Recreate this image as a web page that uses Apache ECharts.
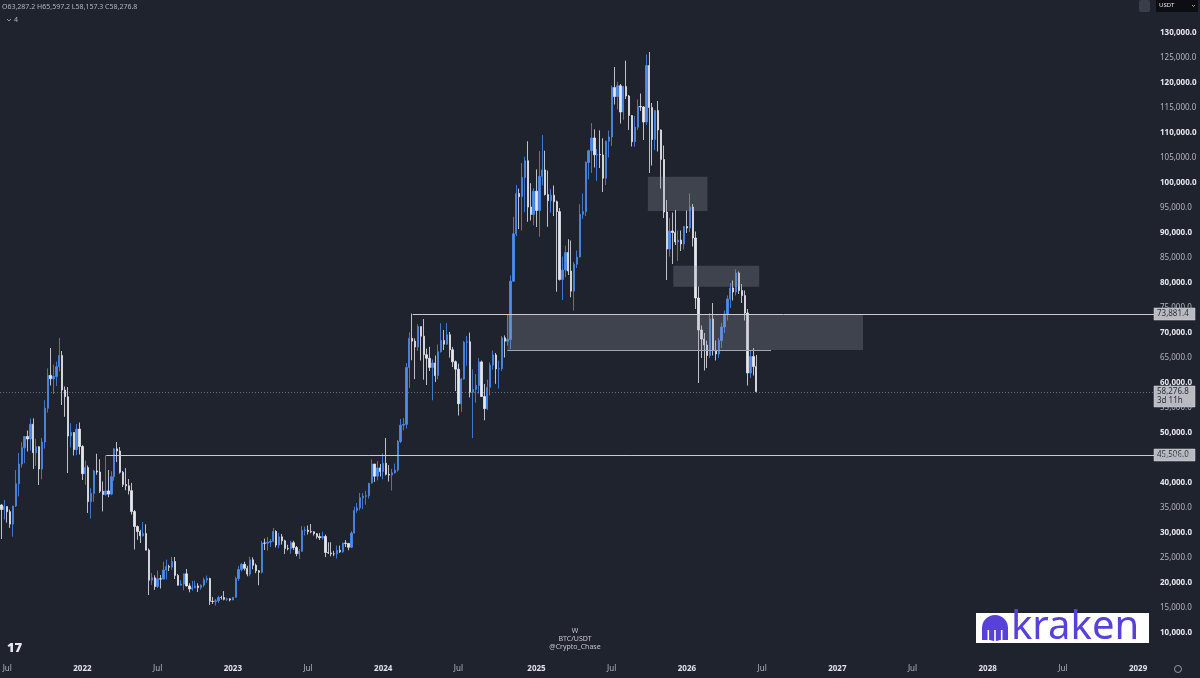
<!DOCTYPE html>
<html>
<head>
<meta charset="utf-8">
<title>BTC/USDT W</title>
<script src="https://cdn.jsdelivr.net/npm/echarts@6/dist/echarts.min.js"></script>
<style>
  html, body { margin: 0; padding: 0; background: #1f232d; }
  #main { width: 1200px; height: 678px; }
</style>
</head>
<body>
<div id="main"></div>
<script>
// weekly BTC/USDT candles, prices in thousands of USDT
const firstWeek = Date.UTC(2021, 5, 21);
const weekCount = 399; // candles + empty space to early 2029

const opens = [
  35.6, 34.7, 35.29, 34.26, 31.78, 35.4, 39.85, 43.8, 47.06, 49.3,
  48.8, 51.76, 46.06, 47.26, 42.8, 48.2, 54.96, 61.53, 60.85, 61.3,
  63.27, 65.52, 58.6, 57.25, 49.4, 50.1, 46.68, 50.78, 47.3, 41.86,
  43.08, 36.28, 37.92, 42.41, 42.2, 38.35, 37.7, 38.42, 37.78, 41.26,
  46.83, 46.4, 42.15, 39.7, 39.45, 38.47, 34.3, 31.3, 30.3, 29.45,
  29.9, 26.57, 20.56, 21.03, 19.3, 20.84, 20.78, 22.58, 23.3, 23.17,
  24.3, 21.52, 19.55, 19.8, 21.83, 19.42, 18.8, 19.05, 19.42, 19.07,
  19.57, 20.63, 20.9, 16.33, 16.28, 16.43, 17.1, 17.09, 16.74, 16.84,
  16.6, 17.13, 20.87, 22.7, 23.74, 22.93, 21.78, 24.63, 23.55, 22.43,
  22.14, 27.98, 27.96, 28.17, 28.33, 30.3, 27.59, 29.23, 28.43, 26.92,
  26.85, 28.07, 27.1, 25.85, 26.34, 30.52, 30.59, 30.29, 30.23, 29.86,
  29.28, 29.05, 29.3, 26.1, 26.01, 25.84, 25.83, 26.53, 26.25, 27.99,
  27.92, 27.15, 30.0, 34.52, 35.01, 37.06, 37.36, 37.45, 39.97, 43.79,
  41.37, 43.02, 42.28, 43.95, 41.73, 41.58, 42.03, 42.58, 48.3, 51.57,
  51.73, 63.11, 68.95, 68.37, 67.21, 71.28, 69.36, 65.66, 64.94, 63.11,
  64.01, 61.48, 66.27, 68.5, 67.76, 69.65, 66.65, 64.25, 62.77, 55.85,
  60.8, 68.16, 68.25, 58.16, 58.71, 59.49, 64.22, 57.3, 54.87, 59.13,
  63.58, 65.6, 62.82, 62.85, 69.03, 68.36, 68.72, 80.37, 89.85, 97.9,
  97.27, 101.11, 104.46, 95.19, 93.71, 98.36, 94.5, 101.33, 102.62, 97.7,
  96.46, 97.57, 96.26, 94.27, 80.7, 82.58, 86.08, 82.39, 78.37, 83.76,
  85.18, 93.75, 94.28, 104.1, 106.45, 109.0, 105.64, 105.7, 105.6, 100.96,
  108.35, 109.2, 119.08, 117.3, 119.45, 114.2, 119.3, 117.4, 113.5, 108.25,
  111.15, 115.3, 115.2, 112.2, 123.5, 115.1, 108.7, 114.5, 110.6, 104.7,
  94.2, 86.8, 90.4, 90.1, 88.2, 88.6, 87.8, 91.3, 91.0, 95.2,
  89.0, 77.0, 70.6, 68.8, 67.6, 65.5, 72.8, 66.5, 65.8, 68.5,
  71.2, 73.8, 76.8, 79.0, 78.2, 82.0, 78.5, 77.5, 74.0, 62.0,
  65.3, 63.2872
];
const highs = [
  35.75, 36.6, 35.3, 34.68, 35.45, 42.6, 46.0, 48.15, 49.38, 50.5,
  52.9, 52.92, 48.84, 47.36, 49.0, 56.56, 62.93, 67.0, 63.7, 64.27,
  69.0, 66.4, 59.3, 59.2, 51.95, 50.2, 51.8, 52.09, 47.57, 44.5,
  43.5, 38.96, 42.65, 45.85, 44.75, 40.3, 45.506, 42.6, 42.35, 46.95,
  48.2, 47.2, 42.43, 42.98, 40.8, 40.02, 34.6, 31.5, 30.65, 32.2,
  31.75, 26.9, 22.0, 21.54, 22.5, 21.6, 24.28, 24.67, 23.65, 25.2,
  25.2, 21.8, 20.58, 21.86, 22.8, 19.95, 20.4, 20.48, 19.95, 19.7,
  21.09, 21.48, 21.05, 17.19, 16.81, 17.43, 17.44, 18.39, 17.06, 16.97,
  17.18, 21.25, 23.37, 23.96, 24.25, 23.45, 25.25, 25.13, 23.9, 22.6,
  28.4, 28.87, 29.18, 28.8, 31.0, 30.55, 30.04, 29.8, 28.65, 27.65,
  28.46, 28.45, 27.4, 26.8, 31.4, 31.28, 31.5, 31.8, 30.35, 29.99,
  29.98, 30.25, 29.69, 28.14, 28.15, 26.43, 27.48, 27.48, 28.06, 28.58,
  28.0, 30.38, 35.28, 35.98, 38.0, 37.98, 38.45, 39.99, 44.7, 43.8,
  44.4, 43.8, 45.88, 49.0, 43.58, 42.85, 43.88, 48.6, 52.82, 52.98,
  64.0, 70.13, 73.8814, 68.92, 71.77, 71.3, 72.8, 66.87, 67.23, 64.73,
  65.5, 67.7, 71.95, 70.6, 71.99, 70.2, 67.2, 64.5, 63.86, 61.0,
  68.38, 69.4, 70.08, 62.75, 61.8, 65.0, 64.48, 59.8, 60.67, 64.13,
  66.5, 66.0, 64.48, 69.4, 69.52, 73.62, 81.5, 93.26, 99.59, 98.87,
  104.0, 105.25, 108.35, 99.96, 98.98, 102.72, 106.4, 109.59, 106.46, 102.5,
  98.83, 99.5, 96.5, 95.0, 85.3, 87.47, 88.75, 88.5, 84.2, 86.5,
  95.75, 97.9, 104.35, 106.66, 111.98, 110.72, 106.8, 110.53, 108.95, 108.5,
  110.5, 119.5, 123.2, 120.25, 119.8, 119.35, 124.47, 117.6, 113.6, 113.4,
  116.7, 117.9, 115.4, 125.7, 126.2, 116.0, 114.6, 116.4, 110.7, 107.5,
  96.6, 93.0, 94.1, 94.6, 90.5, 90.5, 91.0, 94.5, 97.9, 95.8,
  90.3, 79.3, 71.5, 70.0, 68.5, 74.0, 76.0, 68.5, 69.0, 72.0,
  74.5, 77.5, 80.0, 80.5, 82.7, 82.3, 79.8, 78.5, 74.8, 66.5,
  67.0, 65.5972
];
const lows = [
  28.8, 32.7, 32.08, 31.02, 29.28, 35.2, 37.33, 43.1, 43.95, 46.3,
  46.5, 42.8, 43.4, 39.6, 40.75, 46.9, 54.1, 59.5, 57.8, 59.4,
  62.3, 55.6, 53.25, 42.0, 47.1, 45.5, 45.56, 45.7, 40.6, 39.65,
  34.0, 32.9, 36.25, 41.65, 38.0, 34.32, 37.45, 37.15, 37.55, 40.47,
  44.2, 41.87, 39.2, 38.55, 37.7, 33.7, 26.7, 28.65, 28.0, 29.3,
  26.56, 17.6, 19.63, 18.62, 19.0, 18.9, 20.75, 20.7, 22.4, 22.66,
  20.8, 19.52, 19.52, 18.54, 19.32, 18.15, 18.47, 18.95, 18.2, 18.65,
  19.24, 20.05, 15.59, 15.81, 15.48, 16.02, 16.68, 16.53, 16.4, 16.33,
  16.58, 17.1, 20.4, 22.3, 22.5, 21.35, 21.35, 22.75, 21.97, 19.55,
  21.9, 26.6, 26.5, 27.2, 28.17, 27.12, 26.94, 27.68, 25.8, 26.52,
  25.87, 26.61, 25.35, 24.8, 26.26, 29.5, 29.7, 29.95, 29.5, 28.86,
  28.6, 28.7, 25.17, 25.8, 25.33, 25.36, 24.9, 26.0, 26.0, 27.2,
  26.54, 26.98, 29.88, 34.06, 34.52, 34.8, 35.65, 36.88, 39.97, 40.22,
  40.52, 41.3, 40.75, 41.5, 40.28, 38.5, 41.88, 42.25, 48.0, 50.52,
  50.9, 59.0, 64.55, 60.78, 66.4, 64.5, 60.66, 59.6, 62.4, 56.55,
  60.19, 60.75, 66.06, 66.6, 67.6, 65.08, 63.2, 58.4, 53.5, 54.26,
  60.63, 63.45, 57.12, 49.0, 56.08, 57.86, 57.2, 52.55, 54.58, 57.5,
  62.7, 59.83, 58.9, 62.42, 65.1, 67.47, 66.8, 80.21, 89.38, 90.79,
  90.5, 94.15, 92.23, 92.5, 91.53, 91.2, 89.25, 99.5, 97.5, 91.23,
  94.09, 93.39, 78.25, 80.5, 76.6, 81.15, 81.6, 77.15, 74.5, 83.0,
  85.14, 92.8, 93.4, 100.7, 102.0, 103.1, 100.4, 103.0, 98.2, 99.6,
  105.1, 107.4, 115.7, 114.7, 111.9, 112.65, 116.8, 110.6, 107.3, 107.27,
  110.6, 114.4, 108.6, 111.6, 102.0, 103.5, 106.6, 106.3, 98.9, 93.0,
  80.6, 85.3, 83.8, 87.6, 84.4, 86.4, 86.7, 90.0, 90.2, 87.3,
  74.8, 60.0, 65.0, 62.5, 63.0, 65.0, 65.5, 64.5, 65.0, 67.0,
  70.0, 72.5, 75.0, 76.5, 77.5, 77.8, 76.0, 72.5, 59.5, 61.0,
  61.5, 58.1573
];
const closes = [
  34.7, 35.29, 34.26, 31.78, 35.4, 39.85, 43.8, 47.06, 49.3, 48.8,
  51.76, 46.06, 47.26, 42.8, 48.2, 54.96, 61.53, 60.85, 61.3, 63.27,
  65.52, 58.6, 57.25, 49.4, 50.1, 46.68, 50.78, 47.3, 41.86, 43.08,
  36.28, 37.92, 42.41, 42.2, 38.35, 37.7, 38.42, 37.78, 41.26, 46.83,
  46.4, 42.15, 39.7, 39.45, 38.47, 34.3, 31.3, 30.3, 29.45, 29.9,
  26.57, 20.56, 21.03, 19.3, 20.84, 20.78, 22.58, 23.3, 23.17, 24.3,
  21.52, 19.55, 19.8, 21.83, 19.42, 18.8, 19.05, 19.42, 19.07, 19.57,
  20.63, 20.9, 16.33, 16.28, 16.43, 17.1, 17.09, 16.74, 16.84, 16.6,
  17.13, 20.87, 22.7, 23.74, 22.93, 21.78, 24.63, 23.55, 22.43, 22.14,
  27.98, 27.96, 28.17, 28.33, 30.3, 27.59, 29.23, 28.43, 26.92, 26.85,
  28.07, 27.1, 25.85, 26.34, 30.52, 30.59, 30.29, 30.23, 29.86, 29.28,
  29.05, 29.3, 26.1, 26.01, 25.84, 25.83, 26.53, 26.25, 27.99, 27.92,
  27.15, 30.0, 34.52, 35.01, 37.06, 37.36, 37.45, 39.97, 43.79, 41.37,
  43.02, 42.28, 43.95, 41.73, 41.58, 42.03, 42.58, 48.3, 51.57, 51.73,
  63.11, 68.95, 68.37, 67.21, 71.28, 69.36, 65.66, 64.94, 63.11, 64.01,
  61.48, 66.27, 68.5, 67.76, 69.65, 66.65, 64.25, 62.77, 55.85, 60.8,
  68.16, 68.25, 58.16, 58.71, 59.49, 64.22, 57.3, 54.87, 59.13, 63.58,
  65.6, 62.82, 62.85, 69.03, 68.36, 68.72, 80.37, 89.85, 97.9, 97.27,
  101.11, 104.46, 95.19, 93.71, 98.36, 94.5, 101.33, 102.62, 97.7, 96.46,
  97.57, 96.26, 94.27, 80.7, 82.58, 86.08, 82.39, 78.37, 83.76, 85.18,
  93.75, 94.28, 104.1, 106.45, 109.0, 105.64, 105.7, 105.6, 100.96, 108.35,
  109.2, 119.08, 117.3, 119.45, 114.2, 119.3, 117.4, 113.5, 108.25, 111.15,
  115.3, 115.2, 112.2, 123.5, 115.1, 108.7, 114.5, 110.6, 104.7, 94.2,
  86.8, 90.4, 90.1, 88.2, 88.6, 87.8, 91.3, 91.0, 95.2, 89.0,
  77.0, 70.6, 68.8, 67.6, 65.5, 72.8, 66.5, 65.8, 68.5, 71.2,
  73.8, 76.8, 79.0, 78.2, 82.0, 78.5, 77.5, 74.0, 62.0, 65.3,
  63.2872, 58.2768
];

// drawings: [fromWeek, toWeek, price] (week index may be fractional)
const levels = [[142.2, 398.5, 73881.4], [36.2, 398.5, 45506.0]];
const zoneEdges = [[174.9, 266.1, 66600]];
// rectangles: [fromWeek, topPrice, toWeek, bottomPrice]
const zones = [
  [223.5, 101270, 244.1, 94400],
  [232.3, 83470, 262.0, 79270],
  [174.9, 73600, 297.9, 66600]
];
const countdown = '3d 11h';

const weeks = [];
for (let i = 0; i < weekCount; i++) {
  weeks.push(new Date(firstWeek + i * 7 * 864e5).toISOString().slice(0, 10));
}
const candles = opens.map((o, i) => [o * 1000, closes[i] * 1000, lows[i] * 1000, highs[i] * 1000]);
const last = candles.length - 1;
const lastClose = candles[last][1];

const fmt = v => v.toLocaleString('en-US', {minimumFractionDigits: 1, maximumFractionDigits: 1});
const month = i => +weeks[i].slice(5, 7);
const isMark = i => i > 0 && month(i) !== month(i - 1) && (month(i) === 1 || month(i) === 7);

const FONT = '"Noto Sans", "Open Sans", sans-serif';
const UP = '#4f8cec';
const DOWN = '#e6e8ee';

// x pixel for a fractional week index
function xAt(api, i) {
  const base = Math.floor(i);
  const bw = api.size([1, 0])[0];
  return api.coord([base, 0])[0] + (i - base) * bw;
}

const chart = echarts.init(document.getElementById('main'));

chart.setOption({
  backgroundColor: '#1f232d',
  animation: false,
  grid: {left: 0, right: 46, top: 33, bottom: 45, outerBoundsMode: 'none'},
  xAxis: {
    type: 'category',
    data: weeks,
    boundaryGap: true,
    axisLine: {show: false},
    axisTick: {show: false},
    splitLine: {show: false},
    axisLabel: {
      interval: i => isMark(i),
      hideOverlap: false,
      margin: 32,
      formatter: (v, i) => month(i) === 1 ? '{y|' + v.slice(0, 4) + '}' : '{m|Jul}',
      rich: {
        y: {fontFamily: FONT, fontSize: 8, fontWeight: 'bold', color: '#e0e3eb'},
        m: {fontFamily: FONT, fontSize: 8, color: '#b2b5be'}
      }
    }
  },
  yAxis: {
    type: 'value',
    position: 'right',
    min: 10000,
    max: 130000,
    interval: 5000,
    splitLine: {show: false},
    axisLine: {show: false},
    axisTick: {show: false},
    axisLabel: {
      margin: 6,
      formatter: v => (v % 10000 === 0 ? '{b|' : '{n|') + fmt(v) + '}',
      rich: {
        b: {fontFamily: FONT, fontSize: 8, fontWeight: 'bold', color: '#e6e8ee'},
        n: {fontFamily: FONT, fontSize: 8, color: '#b2b5be'}
      }
    }
  },
  series: [
    {
      type: 'candlestick',
      data: candles,
      barWidth: 1.8,
      z: 2,
      itemStyle: {
        color: UP, color0: DOWN,
        borderColor: UP, borderColor0: DOWN,
        borderColorDoji: DOWN,
        borderWidth: 0.8
      }
    },
    {
      type: 'custom',
      z: 3,
      silent: true,
      data: zones,
      renderItem: (params, api) => {
        const x0 = xAt(api, api.value(0));
        const x1 = xAt(api, api.value(2));
        const y0 = api.coord([0, api.value(1)])[1];
        const y1 = api.coord([0, api.value(3)])[1];
        return {type: 'rect', shape: {x: x0, y: y0, width: x1 - x0, height: y1 - y0},
          style: {fill: 'rgba(150,154,166,0.27)'}};
      }
    },
    {
      type: 'custom',
      z: 4,
      silent: true,
      data: levels,
      renderItem: (params, api) => {
        const y = Math.round(api.coord([0, api.value(2)])[1]) + 0.5;
        return {type: 'line', shape: {x1: xAt(api, api.value(0)), y1: y, x2: xAt(api, api.value(1)), y2: y},
          style: {stroke: '#c9cbd1', lineWidth: 1}};
      }
    },
    {
      type: 'custom',
      z: 4,
      silent: true,
      data: zoneEdges,
      renderItem: (params, api) => {
        const y = Math.round(api.coord([0, api.value(2)])[1]) + 0.5;
        return {type: 'line', shape: {x1: xAt(api, api.value(0)), y1: y, x2: xAt(api, api.value(1)), y2: y},
          style: {stroke: '#a3a6ae', lineWidth: 1}};
      }
    },
    {
      type: 'custom',
      z: 1,
      silent: true,
      data: [[-0.5, 398.5, lastClose]],
      renderItem: (params, api) => {
        const y = Math.round(api.coord([0, api.value(2)])[1]) + 0.5;
        return {type: 'line', shape: {x1: xAt(api, api.value(0)), y1: y, x2: xAt(api, api.value(1)), y2: y},
          style: {stroke: '#6a6d78', lineWidth: 1, lineDash: [1, 2]}};
      }
    }
  ]
});

// price tags on the axis and the overlay texts
const tagX = 1154;
const yOf = p => chart.convertToPixel({yAxisIndex: 0}, p);
function tag(price, lines) {
  const h = lines.length * 9 + 3;
  const y = Math.round(yOf(price)) - 6;
  return {
    type: 'group', x: tagX, y: y, z: 100,
    children: [
      {type: 'rect', shape: {x: 0, y: 0, width: 41, height: h}, style: {fill: '#b9bbc1', stroke: '#d8dae0', lineWidth: 0.5}},
      {type: 'text', x: 3, y: 1.5, style: {text: lines.join('\n'), lineHeight: 9, fill: '#2a2e39', font: '8px ' + FONT}}
    ]
  };
}

const c = candles[last];
const ohlc = 'O' + fmt(c[0]) + ' H' + fmt(c[3]) + ' L' + fmt(c[2]) + ' C' + fmt(c[1]);

chart.setOption({
  graphic: [
    tag(levels[0][2], [fmt(levels[0][2])]),
    tag(lastClose, [fmt(lastClose), countdown]),
    tag(levels[1][2], [fmt(levels[1][2])]),
    {type: 'text', left: 2, top: 3, z: 100, style: {text: ohlc, fill: '#b2b5be', font: '7px ' + FONT}},
    {type: 'polyline', z: 100, shape: {points: [[7, 19], [9, 21], [11, 19]]}, style: {stroke: '#b2b5be', lineWidth: 0.8, fill: null}},
    {type: 'text', x: 14, y: 16.5, z: 100, style: {text: '4', fill: '#b2b5be', font: '7px ' + FONT}},
    // symbol watermark
    {type: 'text', x: 575, y: 631, z: 100, style: {text: 'W', fill: '#c3c5cb', font: '7px ' + FONT, align: 'center', verticalAlign: 'middle'}},
    {type: 'text', x: 575, y: 639, z: 100, style: {text: 'BTC/USDT', fill: '#c3c5cb', font: '7px ' + FONT, align: 'center', verticalAlign: 'middle'}},
    {type: 'text', x: 575, y: 647, z: 100, style: {text: '@Crypto_Chase', fill: '#c3c5cb', font: '7px ' + FONT, align: 'center', verticalAlign: 'middle'}},
    // TradingView mark
    {type: 'text', x: 7, y: 642, z: 100, style: {text: '17', fill: '#e6e8ee', font: '900 13px ' + FONT}},
    // currency box top right
    {type: 'rect', z: 100, shape: {x: 1139, y: 0, width: 11, height: 12, r: 2}, style: {fill: '#3a3e4a'}},
    {type: 'rect', z: 100, shape: {x: 1156, y: 0, width: 42, height: 12}, style: {fill: '#0c0e13'}},
    {type: 'text', z: 101, x: 1159, y: 2.5, style: {text: 'USDT', fill: '#e6e8ee', font: '6px ' + FONT}},
    {type: 'polyline', z: 101, shape: {points: [[1192, 5], [1193.5, 6.5], [1195, 5]]}, style: {stroke: '#c3c5cb', lineWidth: 0.8, fill: null}},
    // settings icon
    {type: 'circle', z: 100, shape: {cx: 1178, cy: 669, r: 3.5}, style: {fill: null, stroke: '#9598a1', lineWidth: 1}},
    // kraken logo
    {
      type: 'group', x: 976, y: 613, z: 100,
      children: [
        {type: 'rect', shape: {x: 0, y: 0, width: 173, height: 30}, style: {fill: '#ffffff'}},
        {type: 'circle', shape: {cx: 19, cy: 15, r: 13}, style: {fill: '#5741d9'}},
        {type: 'rect', shape: {x: 6, y: 15, width: 26, height: 12}, style: {fill: '#5741d9'}},
        {type: 'rect', shape: {x: 11.5, y: 17, width: 1.6, height: 11}, style: {fill: '#ffffff'}},
        {type: 'rect', shape: {x: 18.2, y: 17, width: 1.6, height: 11}, style: {fill: '#ffffff'}},
        {type: 'rect', shape: {x: 24.9, y: 17, width: 1.6, height: 11}, style: {fill: '#ffffff'}},
        {type: 'text', x: 35, y: 15, style: {text: 'kraken', fill: '#5741d9', font: '40px ' + FONT, verticalAlign: 'middle'}}
      ]
    }
  ]
});
</script>
</body>
</html>
